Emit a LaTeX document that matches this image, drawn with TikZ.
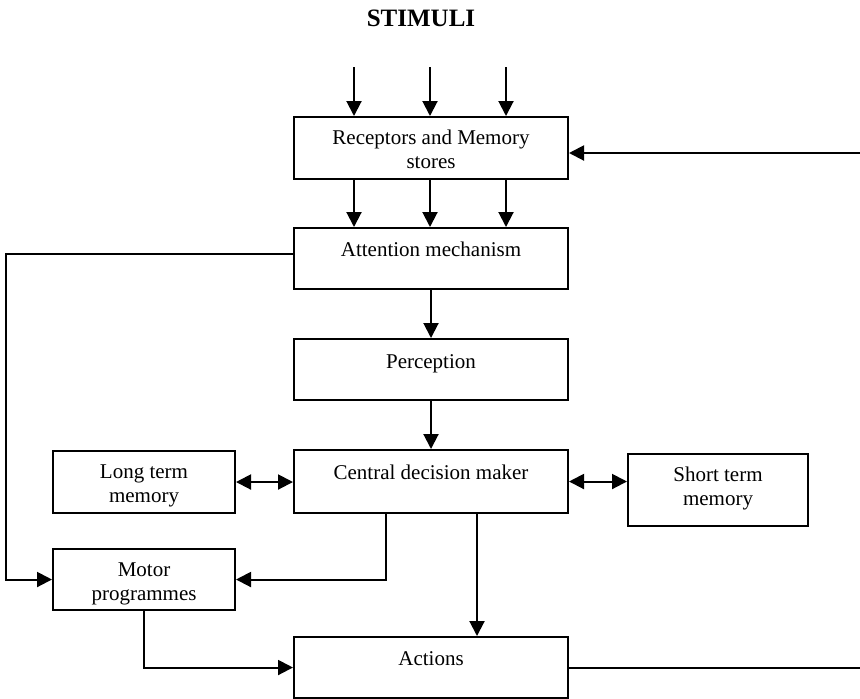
\documentclass[tikz,border=0pt]{standalone}
\usepackage{fontspec}
\setmainfont{Liberation Serif}
\usetikzlibrary{arrows.meta}

\tikzset{
  blk/.style={draw, line width=1pt, inner sep=0pt, anchor=north west,
              font=\fontsize{10.5}{12}\selectfont},
  arr/.style={line width=1pt, -{Triangle[length=7.5pt,width=7.5pt]}},
  darr/.style={line width=1pt, {Triangle[length=7.5pt,width=7.5pt]}-{Triangle[length=7.5pt,width=7.5pt]}},
  ln/.style={line width=1pt}
}
% box contents: width, height, first baseline, text
\newcommand{\blktext}[4]{\parbox[c][#2][t]{#1}{\centering\rule{0pt}{#3}#4}}

\begin{document}
\begin{tikzpicture}[x=0.5pt, y=-0.5pt]
  \useasboundingbox (0,0) rectangle (860,698);

  \node[font=\fontsize{12.5}{15}\bfseries\selectfont, inner sep=0pt] (title) at (421,18) {STIMULI};

  % blocks
  \node[blk] (rec) at (293,116) {\blktext{137pt}{31pt}{13.5pt}{Receptors and Memory\\stores}};
  \node[blk] (att) at (293,227) {\blktext{137pt}{30.5pt}{14pt}{Attention mechanism}};
  \node[blk] (per) at (293,338) {\blktext{137pt}{30.5pt}{14.5pt}{Perception}};
  \node[blk] (cdm) at (293,449) {\blktext{137pt}{31.5pt}{14.5pt}{Central decision maker}};
  \node[blk] (ltm) at (52,450)  {\blktext{91pt}{31pt}{13.5pt}{Long term\\memory}};
  \node[blk] (stm) at (627,453) {\blktext{90pt}{36pt}{13.5pt}{Short term\\memory}};
  \node[blk] (mot) at (52,548)  {\blktext{91pt}{30.5pt}{13.5pt}{Motor\\programmes}};
  \node[blk] (act) at (293,636) {\blktext{137pt}{30.5pt}{14pt}{Actions}};

  \coordinate (s1) at (354,67);
  \coordinate (s2) at (430,67);
  \coordinate (s3) at (506,67);
  \coordinate (lft) at (6,0);
  \coordinate (rgt) at (860,0);

  % stimuli in
  \foreach \s in {s1,s2,s3} {
    \draw[arr] (\s) -- (\s |- rec.north);
    \draw[arr] (rec.south -| \s) -- (att.north -| \s);
  }

  \draw[arr] (att.south) -- (per.north);
  \draw[arr] (per.south) -- (cdm.north);
  \draw[darr] (ltm.east) -- (ltm.east -| cdm.west);
  \draw[darr] (cdm.east) -- (cdm.east -| stm.west);

  % loops
  \draw[arr] ([yshift=2.5pt]att.west) -| (lft |- mot.west) -- (mot.west);
  \draw[arr] ([xshift=-22.5pt]cdm.south) |- (mot.east);
  \draw[arr] ([xshift=23pt]cdm.south) -- ([xshift=23pt]act.north);
  \draw[arr] (mot.south) |- (act.west);

  % feedback
  \draw[ln] (act.east) -- (act.east -| rgt);
  \draw[arr] ([yshift=-2.5pt]rec.east -| rgt) -- ([yshift=-2.5pt]rec.east);
\end{tikzpicture}
\end{document}
